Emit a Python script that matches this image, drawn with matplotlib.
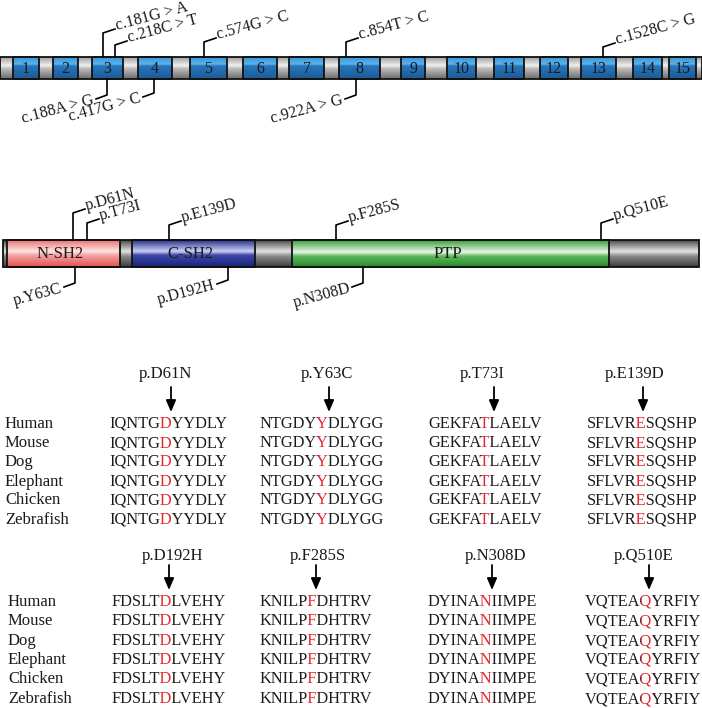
import matplotlib
matplotlib.use('Agg')
import matplotlib.pyplot as plt
import numpy as np
from matplotlib.colors import LinearSegmentedColormap
from matplotlib.patches import Rectangle
from matplotlib.transforms import Bbox

plt.rcParams['font.family'] = 'Liberation Serif'

# 基因外顯子 (沿基因條的位置)
exon_start = [13, 53, 92, 138, 190, 243, 289, 339, 401, 447, 494, 540, 581, 633, 669]
exon_end = [39, 78, 123, 172, 227, 277, 324, 380, 425, 476, 524, 568, 616, 662, 696]
gene_len = 702

# cDNA 變異
cdna_muts = ["c.181G > A", "c.218C > T", "c.574G > C", "c.854T > C", "c.1528C > G",
             "c.188A > G", "c.417G > C", "c.922A > G"]
cdna_pos = [103, 115, 204, 346, 603, 107, 154, 356]
cdna_side = ["up", "up", "up", "up", "up", "down", "down", "down"]
cdna_stem = [24, 12, 15, 15, 10, 16, 14, 16]

# 蛋白質結構域
domains = ["N-SH2", "C-SH2", "PTP"]
dom_start = [7, 132, 292]
dom_end = [120, 255, 609]
protein_start, protein_end = 3, 699

# 蛋白質變異
prot_muts = ["p.D61N", "p.T73I", "p.E139D", "p.F285S", "p.Q510E",
             "p.Y63C", "p.D192H", "p.N308D"]
prot_pos = [73, 87, 169, 336, 601, 75, 228, 363]
prot_side = ["up", "up", "up", "up", "up", "down", "down", "down"]
prot_stem = [27, 17, 15, 15, 17, 16, 13, 16]

# 物種保守性比對
species = ["Human", "Mouse", "Dog", "Elephant", "Chicken", "Zebrafish"]
top_muts = ["p.D61N", "p.Y63C", "p.T73I", "p.E139D"]
top_seqs = ["IQNTGDYYDLY", "NTGDYYDLYGG", "GEKFATLAELV", "SFLVRESQSHP"]
bot_muts = ["p.D192H", "p.F285S", "p.N308D", "p.Q510E"]
bot_seqs = ["FDSLTDLVEHY", "KNILPFDHTRV", "DYINANIIMPE", "VQTEAQYRFIY"]
mut_idx = 5

RED = '#e3262b'
INK = '#1a1a1a'
W, H = 702, 708

fig = plt.figure(figsize=(W / 100, H / 100), dpi=100)
ax = fig.add_axes([0, 0, 1, 1])
ax.set_xlim(0, W)
ax.set_ylim(H, 0)
ax.axis('off')
renderer = fig.canvas.get_renderer()


def grad_box(x0, x1, y0, y1, stops, lw=1.3):
    cmap = LinearSegmentedColormap.from_list('g', stops)
    g = np.linspace(0, 1, 80).reshape(-1, 1)
    ax.imshow(g, cmap=cmap, extent=[x0, x1, y1, y0], aspect='auto',
              interpolation='bilinear', zorder=2)
    ax.add_patch(Rectangle((x0, y0), x1 - x0, y1 - y0, fill=False,
                           ec='#111111', lw=lw, zorder=3))


def leader(x, y_edge, side, stem, label, fs):
    if side == "up":
        y1 = y_edge - stem
        xe, ye = x + 12, y1 - 4
        ax.plot([x, x, xe], [y_edge, y1, ye], color='black', lw=1.2, zorder=4)
        ax.text(xe + 2, ye + 1, label, fontsize=fs, rotation=15, color=INK,
                rotation_mode='anchor', ha='left', va='baseline')
    else:
        y1 = y_edge + stem
        xe, ye = x - 11, y1 + 4
        ax.plot([x, x, xe], [y_edge, y1, ye], color='black', lw=1.2, zorder=4)
        ax.text(xe - 2, ye + 1, label, fontsize=fs, rotation=15, color=INK,
                rotation_mode='anchor', ha='right', va='center')


intron_stops = [(0, '#a0a0a0'), (0.38, '#f0f0f0'), (0.52, '#bdbdbd'), (1, '#6c6c6c')]
exon_stops = [(0, '#3c97d8'), (0.32, '#5ab3ec'), (0.4, '#2876bb'), (1, '#1b5a98')]

# 基因條
gy0, gy1 = 57, 79
grad_box(0, gene_len, gy0, gy1, intron_stops)
for i, (s, e) in enumerate(zip(exon_start, exon_end)):
    grad_box(s, e, gy0, gy1, exon_stops)
    ax.text((s + e) / 2, (gy0 + gy1) / 2 + 1, str(i + 1), fontsize=11.5,
            ha='center', va='center', zorder=5, color=INK)

for lab, x, sd, st in zip(cdna_muts, cdna_pos, cdna_side, cdna_stem):
    leader(x, gy0 if sd == "up" else gy1, sd, st, lab, 11.5)

# 蛋白質條
py0, py1 = 240, 267
gray_stops = [(0, '#4a4a4a'), (0.42, '#e4e4e4'), (0.6, '#8a8a8a'), (1, '#3c3c3c')]
dom_stops = [
    [(0, '#ec7272'), (0.42, '#fde6e6'), (0.55, '#f4a6a6'), (1, '#e45050')],
    [(0, '#28338e'), (0.42, '#cdd1f2'), (0.56, '#3c47aa'), (1, '#1c2478')],
    [(0, '#3a9e3a'), (0.45, '#eaf7ea'), (0.6, '#5cb85c'), (1, '#2a8a2a')],
]
grad_box(protein_start, protein_end, py0, py1, gray_stops)
for name, s, e, stops in zip(domains, dom_start, dom_end, dom_stops):
    grad_box(s, e, py0, py1, stops)
    ax.text((s + e) / 2 - 3, (py0 + py1) / 2 + 1, name, fontsize=12,
            ha='center', va='center', zorder=5, color=INK)

for lab, x, sd, st in zip(prot_muts, prot_pos, prot_side, prot_stem):
    leader(x, py0 if sd == "up" else py1, sd, st, lab, 11.5)


# 保守性比對
def text_w(s, fs):
    t = ax.text(0, 0, s, fontsize=fs)
    w = t.get_window_extent(renderer).width
    t.remove()
    return w


def seq_text(x, y, seq, idx, fs):
    # 整串一次排版, 以裁切框把突變位點塗成紅色
    xa = x + text_w(seq[:idx], fs) + 0.6
    xb = x + text_w(seq[:idx + 1], fs) + 0.6
    ytop, ybot = H - (y - 20), H - (y + 8)
    boxes = [(-10, xa, INK), (xa, xb, RED), (xb, W + 10, INK)]
    for b0, b1, c in boxes:
        t = ax.text(x, y, seq, fontsize=fs, color=c, ha='left', va='baseline',
                    clip_on=True)
        t.set_clip_box(Bbox.from_extents(b0, ybot, b1, ytop))


def block(muts, seqs, title_y, arrow_y, row_y, sp_x, seq_x, title_x, arrow_x):
    for sp, y in zip(species, row_y):
        ax.text(sp_x, y, sp, fontsize=12, ha='left', va='baseline', color=INK)
    for m, s, sx, tx, axx in zip(muts, seqs, seq_x, title_x, arrow_x):
        ax.text(tx, title_y, m, fontsize=12, ha='center', va='baseline', color=INK)
        ax.annotate('', xy=(axx, arrow_y[1]), xytext=(axx, arrow_y[0]),
                    arrowprops=dict(arrowstyle='-|>,head_length=0.7,head_width=0.3',
                                    color='black', lw=1.3, shrinkA=0, shrinkB=0))
        for y in row_y:
            seq_text(sx, y, s, mut_idx, 11.8)


block(top_muts, top_seqs, 378, (387, 412),
      [428, 447, 466, 485.5, 504.5, 523.5], 5,
      [109, 260, 428, 587], [165, 327, 482, 635], [171, 329, 494, 643])
block(bot_muts, bot_seqs, 560, (565, 590),
      [606, 625, 645, 664, 683, 703], 8,
      [111, 259, 428, 585], [172, 318, 495, 644], [169, 316, 492, 649])

ax.set_xlim(0, W)
ax.set_ylim(H, 0)
fig.savefig('out.png', dpi=100)
